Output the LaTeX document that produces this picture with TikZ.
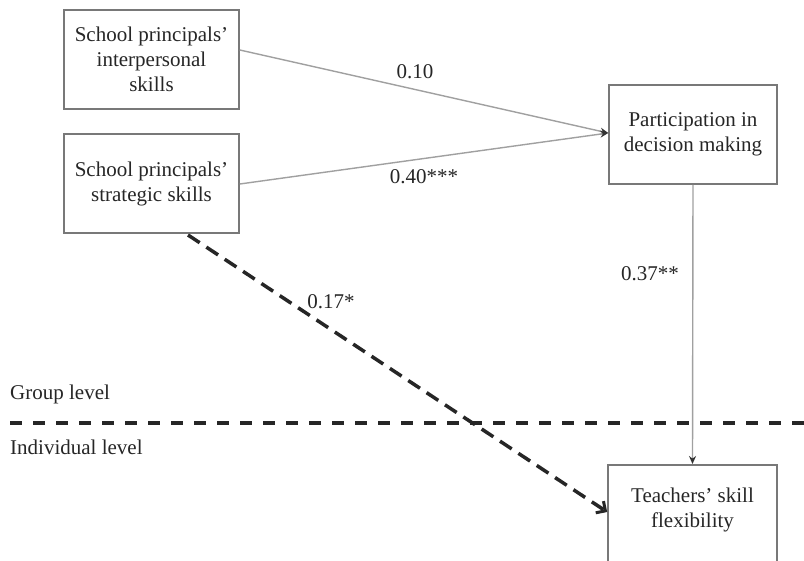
\documentclass[tikz,border=0pt]{standalone}
\usepackage{fontspec}
\setmainfont{Liberation Serif}
\usetikzlibrary{arrows.meta}
\definecolor{boxgray}{RGB}{120,120,120}
\definecolor{linegray}{RGB}{160,160,160}
\definecolor{tipgray}{RGB}{50,50,50}
\begin{document}
\begin{tikzpicture}[x=1pt,y=-1pt,
  every node/.style={font=\fontsize{21}{25}\selectfont, text=black!85},
  box/.style={draw=boxgray, line width=1.6pt, align=center, inner sep=0pt},
  path/.style={draw=linegray, line width=1.4pt,
    -{Stealth[length=8pt,width=7pt,color=tipgray]}},
  dasharrow/.style={draw=black!85, line width=3.5pt, dash pattern=on 14pt off 8pt,
    -{Straight Barb[length=7pt,width=14pt,line width=3pt]}},
  levelline/.style={draw=black!85, line width=3.5pt, dash pattern=on 12pt off 11pt},
  coef/.style={inner sep=0pt}]
\useasboundingbox[fill=white] (0,0) rectangle (804,561);

% constructs
\node[box, minimum width=175, minimum height=99] (inter) at (151.5,59.5)
  {School principals'\\interpersonal\\skills};
\node[box, minimum width=175, minimum height=99] (strat) at (151.5,183.5)
  {School principals'\\strategic skills};
\node[box, minimum width=168, minimum height=99] (part) at (693,134.5)
  {Participation in\\decision making};
\node[box, anchor=north, minimum width=169, minimum height=130, text depth=44pt] (flex) at (692.5,464)
  {Teachers' skill\\flexibility};

% level separator
\coordinate (sepL) at (10,423);
\coordinate (sepR) at (804,423);
\draw[levelline] (sepL) -- (sepR);
\node[anchor=west, coef] (group) at (10,394) {Group level};
\node[anchor=west, coef] (indiv) at (10,447) {Individual level};

% paths
\draw[path] (inter.east |- 0,50) -- (part.west |- 0,133);
\draw[path] (strat.east |- 0,184) -- (part.west |- 0,133);
\draw[path] (part.south) -- (flex.north);
\draw[dasharrow] (188,235) -- (flex.west |- 0,512);

% coefficients
\node[coef] (c1) at (415,72) {0.10};
\node[coef] (c2) at (424,177) {0.40***};
\node[coef] (c3) at (331,302) {0.17*};
\node[coef] (c4) at (650,274) {0.37**};
\end{tikzpicture}
\end{document}
